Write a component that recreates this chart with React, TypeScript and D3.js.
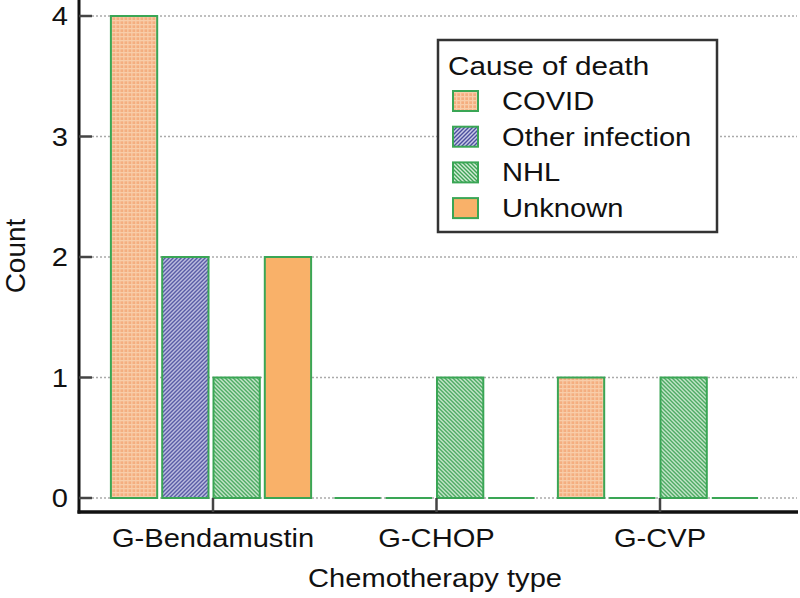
import React from 'react';
import * as d3 from 'd3';

const categories = ['G-Bendamustin', 'G-CHOP', 'G-CVP'];
const causes = ['COVID', 'Other infection', 'NHL', 'Unknown'];
const covid = [4, 0, 1];
const otherInfection = [2, 0, 0];
const nhl = [1, 1, 1];
const unknown = [2, 0, 0];
const yTicks = [0, 1, 2, 3, 4];

const seriesValues = [covid, otherInfection, nhl, unknown];
const fills = ['url(#pCovid)', 'url(#pOther)', 'url(#pNhl)', '#f9b169'];
const W = 800, H = 598;
const font = 'Liberation Sans, Arial, sans-serif';
const SX = 1.12; // glyphs in the reference look a little wide

// horizontal text, stretched a bit in x
const T = ({ x, y, anchor = 'start', size = 26, children }: any) => (
  <text transform={`translate(${x},${y}) scale(${SX},1)`} textAnchor={anchor}
    fontFamily={font} fontSize={size} fill="#111">{children}</text>
);

const App = () => {
  const x0 = d3.scaleBand().domain(categories).range([99.25, 769.75]).padding(0);
  const x1 = d3.scaleBand().domain(causes).range([0, x0.bandwidth()])
    .paddingInner(0.0975).paddingOuter(0.227);
  const y = d3.scaleLinear().domain([0, 4]).range([498, 16]);
  const axisY = 512, axisX = 79;

  return (
    <div style={{ position: 'absolute', left: 0, top: 0 }}>
      <svg width={W} height={H} style={{ display: 'block', background: '#fff' }}>
        <defs>
          <pattern id="pCovid" width="4" height="4" patternUnits="userSpaceOnUse">
            <rect width="4" height="4" fill="#f4ad7e" />
            <rect x="0" y="0" width="4" height="1.3" fill="#f8cda9" />
            <rect x="0" y="0" width="1.3" height="4" fill="#f8cda9" />
          </pattern>
          <pattern id="pOther" width="4" height="4" patternUnits="userSpaceOnUse">
            <rect width="4" height="4" fill="#c9cae6" />
            <path d="M-1,1 l2,-2 M0,4 l4,-4 M3,5 l2,-2" stroke="#4b4f9e" strokeWidth="1.4" />
          </pattern>
          <pattern id="pNhl" width="4" height="4" patternUnits="userSpaceOnUse">
            <rect width="4" height="4" fill="#d2ecd6" />
            <path d="M-1,3 l2,2 M0,0 l4,4 M3,-1 l2,2" stroke="#3fa356" strokeWidth="1.4" />
          </pattern>
        </defs>

        {/* gridlines */}
        {yTicks.map(t => (
          <line key={'g' + t} x1={92} x2={797} y1={y(t)} y2={y(t)}
            stroke="#aaa" strokeWidth={1.5} strokeDasharray="2,2" />
        ))}

        {/* bars */}
        {categories.map((c, ci) => (
          <g key={c} transform={`translate(${x0(c)},0)`}>
            {causes.map((k, ki) => {
              const v = seriesValues[ki][ci];
              const bx = x1(k)!;
              const bw = x1.bandwidth();
              if (v === 0) {
                return <line key={k} x1={bx} x2={bx + bw} y1={y(0)} y2={y(0)}
                  stroke="#3aa655" strokeWidth={2} />;
              }
              return <rect key={k} x={bx} y={y(v)} width={bw} height={y(0) - y(v)}
                fill={fills[ki]} stroke="#3aa655" strokeWidth={2} />;
            })}
          </g>
        ))}

        {/* y axis */}
        <line x1={axisX} x2={axisX} y1={0} y2={axisY + 1.5} stroke="#111" strokeWidth={3} />
        {yTicks.map(t => (
          <g key={'y' + t}>
            <line x1={axisX} x2={92} y1={y(t)} y2={y(t)} stroke="#444" strokeWidth={2.5} />
            <T x={68} y={y(t) + 9} anchor="end">{t}</T>
          </g>
        ))}
        <text transform="translate(25,256) rotate(-90)" textAnchor="middle"
          fontFamily={font} fontSize={28} fill="#111">Count</text>

        {/* x axis */}
        <line x1={axisX - 1.5} x2={798} y1={axisY} y2={axisY} stroke="#111" strokeWidth={3.5} />
        {categories.map(c => {
          const cx = x0(c)! + x0.bandwidth() / 2 + 2;
          return (
            <g key={'x' + c}>
              <line x1={cx} x2={cx} y1={axisY} y2={498} stroke="#444" strokeWidth={2.5} />
              <T x={cx} y={547} anchor="middle">{c}</T>
            </g>
          );
        })}
        <T x={435} y={587} anchor="middle">Chemotherapy type</T>

        {/* legend */}
        <g>
          <rect x={438} y={40} width={279} height={192} fill="#fff" stroke="#333" strokeWidth={2.5} />
          <T x={448} y={75} size={26.5}>Cause of death</T>
          {causes.map((k, i) => (
            <g key={'l' + k}>
              <rect x={453} y={91 + i * 35.7} width={25} height={20} fill={fills[i]} stroke="#3aa655" strokeWidth={2} />
              <T x={502} y={110 + i * 35.7}>{k}</T>
            </g>
          ))}
        </g>
      </svg>
    </div>
  );
};

export default App;
